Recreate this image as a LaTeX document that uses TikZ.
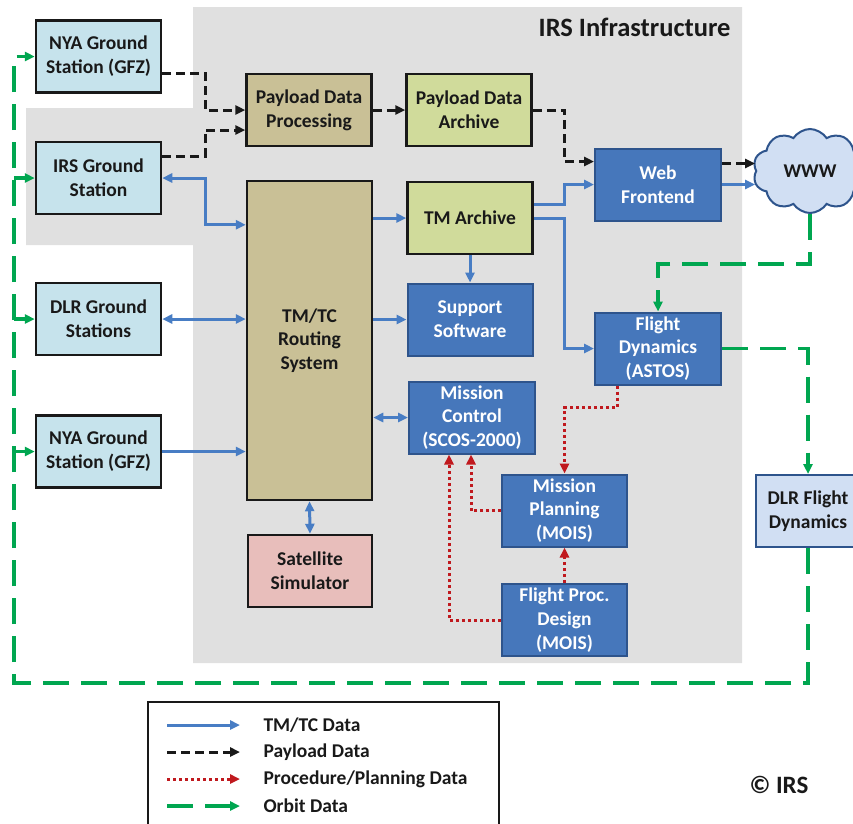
\documentclass[tikz,border=0pt]{standalone}
\usepackage{fontspec}
\setmainfont{Carlito}
\usetikzlibrary{arrows.meta,calc,shapes.symbols}

\definecolor{gsblue}{RGB}{198,227,236}
\definecolor{boxtan}{RGB}{201,192,150}
\definecolor{boxgreen}{RGB}{208,219,155}
\definecolor{boxblue}{RGB}{70,119,187}
\definecolor{boxblueline}{RGB}{46,84,140}
\definecolor{simpink}{RGB}{232,190,187}
\definecolor{paleblue}{RGB}{209,223,243}
\definecolor{infragray}{RGB}{224,224,224}
\definecolor{tmblue}{RGB}{72,125,196}
\definecolor{orbitgreen}{RGB}{0,166,80}
\definecolor{procred}{RGB}{192,25,30}

\tikzset{
  box/.style={draw=black!90, line width=2.5pt, minimum width=125pt, minimum height=72pt,
    align=center, inner sep=2pt, text=black!90, font=\fontsize{19.5}{23.8}\selectfont\bfseries},
  station/.style={box, fill=gsblue},
  tanbox/.style={box, fill=boxtan},
  archbox/.style={box, fill=boxgreen},
  bluebox/.style={box, draw=boxblueline, line width=2pt, fill=boxblue, text=white},
  simbox/.style={box, fill=simpink},
  tmflow/.style={draw=tmblue, line width=3pt},
  payflow/.style={draw=black!90, line width=3pt, dash pattern=on 9pt off 5pt},
  procflow/.style={draw=procred, line width=3pt, dash pattern=on 3pt off 3pt},
  orbitflow/.style={draw=orbitgreen, line width=3.5pt, dash pattern=on 26pt off 12pt},
  legtext/.style={anchor=west, text=black!90, font=\fontsize{19.5}{22}\selectfont\bfseries}
}

\begin{document}
\begin{tikzpicture}[x=1pt, y=-1pt, >={Triangle[length=10pt,width=9pt]}]
\useasboundingbox (0,0) rectangle (853,823);
\clip (0,0) rectangle (853,823);

% IRS infrastructure area
\fill[infragray] (193,7) -- (742,7) -- (742,663) -- (193,663) -- (193,245)
  -- (26,245) -- (26,108) -- (193,108) -- cycle;
\node[anchor=east, text=black!90, font=\fontsize{26.5}{30}\selectfont\bfseries] (title) at (734,27) {IRS Infrastructure};

% ground stations
\node[station] (nyaTop) at (98.5,56.5) {NYA Ground\\Station (GFZ)};
\node[station] (irsGS) at (98.5,178) {IRS Ground\\Station};
\node[station] (dlrGS) at (98.5,319) {DLR Ground\\Stations};
\node[station] (nyaBot) at (98.5,451.5) {NYA Ground\\Station (GFZ)};

% infrastructure
\node[tanbox] (pdp) at (309,110) {Payload Data\\Processing};
\node[archbox] (pda) at (469,110) {Payload Data\\Archive};
\node[tanbox, minimum height=319pt] (tmtc) at (309.5,340.5) {TM/TC\\Routing\\System};
\node[archbox] (tmArch) at (470,218) {TM Archive};
\node[bluebox] (support) at (470,319.5) {Support\\Software};
\node[bluebox, minimum width=126pt] (misCtrl) at (472,417.5) {Mission\\Control\\(SCOS-2000)};
\node[bluebox, minimum width=126pt] (webFront) at (658,184.5) {Web\\Frontend};
\node[bluebox, minimum width=126pt] (flightDyn) at (658,348.5) {Flight\\Dynamics\\(ASTOS)};
\node[bluebox] (misPlan) at (564.5,510.5) {Mission\\Planning\\(MOIS)};
\node[bluebox] (fpd) at (564.5,620) {Flight Proc.\\Design\\(MOIS)};
\node[simbox, minimum width=124pt] (satSim) at (310,571) {Satellite\\Simulator};

% outside
\node[box, draw=boxblueline, line width=2pt, fill=paleblue, minimum width=104pt] (dlrFD) at (808,511) {DLR Flight\\Dynamics};
\node[cloud, cloud puffs=10, cloud puff arc=115, aspect=1.35, draw=boxblueline, fill=paleblue,
  line width=2pt, minimum width=114pt, minimum height=84pt, inner sep=0pt,
  text=black!90, font=\fontsize{19.5}{22}\selectfont\bfseries] (www) at (810,171) {WWW};

% payload data
\draw[payflow, ->] ([yshift=-16.5pt]nyaTop.east) -- ++(43,0) |- (pdp.west);
\draw[payflow, ->] ([yshift=22pt]irsGS.east) -- ++(43,0) |- ([yshift=-20pt]pdp.west);
\draw[payflow, ->] (pdp.east) -- (pda.west);
\draw[payflow, ->] (pda.east) -- ++(32,0) |- ([yshift=23pt]webFront.west);
\draw[payflow, ->] ([yshift=21pt]webFront.east) -- ([yshift=21pt]webFront.east -| www.west);

% TM/TC data
\draw[tmflow, <->] (irsGS.east) -- ++(43,0) |- ($(tmtc.north west)+(0,45)$);
\draw[tmflow, <->] (dlrGS.east) -- (dlrGS.east -| tmtc.west);
\draw[tmflow, ->] (nyaBot.east) -- (nyaBot.east -| tmtc.west);
\draw[tmflow, ->] (tmArch.west -| tmtc.east) -- (tmArch.west);
\draw[tmflow, ->] (support.west -| tmtc.east) -- (support.west);
\draw[tmflow, <->] (misCtrl.west -| tmtc.east) -- (misCtrl.west);
\draw[tmflow, <->] (tmtc.south) -- (satSim.north);
\draw[tmflow, ->] (tmArch.south) -- (support.north);
\draw[tmflow, ->] ([yshift=14pt]tmArch.east) -- ++(31,0) |- (webFront.west);
\draw[tmflow, ->] (tmArch.east) -- ++(31,0) |- (flightDyn.west);
\draw[tmflow, ->] (webFront.east) -- (webFront.east -| www.west);

% procedure / planning data
\draw[procflow, ->] ([xshift=-41pt]flightDyn.south) -- ++(0,22) -| (misPlan.north);
\draw[procflow, ->] (misPlan.west) -| ([xshift=-1pt]misCtrl.south);
\draw[procflow, ->] (fpd.west) -| ([xshift=-23pt]misCtrl.south);
\draw[procflow, ->] (fpd.north) -- (misPlan.south);

% orbit data
\coordinate (orbitBus) at (14,683);
\draw[orbitflow, ->] (www.south) -- ++(0,50) -| (flightDyn.north);
\draw[orbitflow, ->] (flightDyn.east) -| (dlrFD.north);
\draw[orbitflow, ->] (dlrFD.south) |- (orbitBus) |- (nyaTop.west);
\draw[orbitflow, ->] (irsGS.west -| orbitBus) -- (irsGS.west);
\draw[orbitflow, ->] (dlrGS.west -| orbitBus) -- (dlrGS.west);
\draw[orbitflow, ->] (nyaBot.west -| orbitBus) -- (nyaBot.west);

% legend
\draw[black!90, line width=2pt] (148,826) -- (148,702) -- (499,702) -- (499,826);
\coordinate (legA) at (167,725);
\coordinate (legB) at (167,752);
\coordinate (legC) at (167,779);
\coordinate (legD) at (167,806);
\draw[tmflow, ->] (legA) -- ++(73,0);
\draw[payflow, ->] (legB) -- ++(73,0);
\draw[procflow, ->] (legC) -- ++(73,0);
\draw[orbitflow, ->] (legD) -- ++(73,0);
\node[legtext] (legTm) at (260,725) {TM/TC Data};
\node[legtext] (legPay) at (260,752) {Payload Data};
\node[legtext] (legProc) at (260,779) {Procedure/Planning Data};
\node[legtext] (legOrbit) at (260,806) {Orbit Data};
\node[legtext, font=\fontsize{25}{28}\selectfont\bfseries] (copyIRS) at (746,785) {© IRS};
\end{tikzpicture}
\end{document}
